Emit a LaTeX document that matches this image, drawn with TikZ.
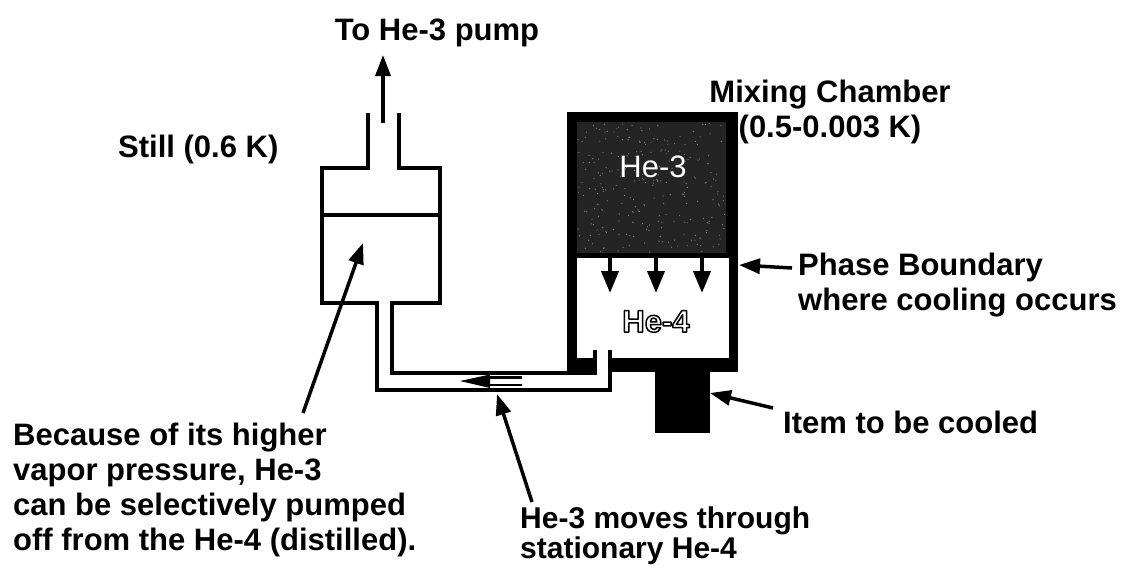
\documentclass[tikz,border=0pt]{standalone}
\usepackage{fontspec}
\setmainfont{Liberation Sans}
\usetikzlibrary{arrows.meta}

% outlined lettering: white fill, black stroke (PDF text render mode 2)
\newcommand{\outlinedtext}[1]{%
  \special{pdf:literal direct 0 G 2 Tr 1.5 w 1 j}#1\special{pdf:literal direct 0 Tr}}

\begin{document}
\begin{tikzpicture}[x=1pt,y=-1pt,
  lbl/.style={font=\bfseries\fontsize{31}{35}\selectfont, inner sep=0pt, align=left},
  inlbl/.style={font=\fontsize{31}{35}\selectfont, inner sep=0pt, anchor=base},
  wall/.style={line width=4pt, line join=miter, line cap=butt},
  ptr/.style={line width=3.5pt, -{Triangle[length=21pt,width=15pt]}},
  dptr/.style={line width=4pt, -{Triangle[length=22pt,width=17pt]}},
]
\useasboundingbox (0,0) rectangle (1135,570);

% ---- still: vessel with pumping neck, liquid level and return line ----
\draw[wall] (368,113) -- (368,168) -- (322,168) -- (322,303) -- (377,303)
            -- (377,390) -- (610,390) -- (610,350);
\draw[wall] (399,113) -- (399,168) -- (440,168) -- (440,303) -- (392,303)
            -- (392,373) -- (595,373) -- (595,350);
\draw[line width=4pt] (322,215) -- (440,215);

% ---- mixing chamber ----
\fill[black] (567,112) rectangle (738,372);
\fill[black!86] (577,122) rectangle (726,253);
\pgfmathsetseed{7}
\foreach \i in {1,...,260}
  \fill[black!45] ({578+147*rnd},{123+129*rnd}) circle (0.6pt);
\fill[white] (577,258) rectangle (729,358);
% return line entering through the chamber floor
\fill[white] (597,350) rectangle (608,388);
\draw[line width=4pt] (595,373) -- (595,350);
\draw[line width=4pt] (610,390) -- (610,350);
% item to be cooled
\fill[black] (655,372) rectangle (710,433);

% flow marker inside the return line
\fill[black] (460,381) -- (490,374.5) -- (490,388) -- cycle;
\draw[line width=2.6pt] (488,377.5) -- (522,377.5);
\draw[line width=2.6pt] (488,385) -- (522,385);

% cooling arrows across the phase boundary
\draw[dptr] (610,257) -- (610,293);
\draw[dptr] (656,257) -- (656,293);
\draw[dptr] (702,257) -- (702,293);

% liquid labels
\node[inlbl, text=white] (hethree) at (653,177) {He-3};
\node[inlbl, text=white, font=\bfseries\fontsize{31}{35}\selectfont] (hefour) at (656,332) {\outlinedtext{He-4}};

% ---- labels ----
\node[lbl, anchor=base] (pump) at (437,40) {To He-3 pump};
\node[lbl, anchor=base west] (still) at (118,157) {Still (0.6 K)};
\node[lbl, anchor=north, align=center] (mix) at (830,80) {Mixing Chamber\\(0.5-0.003 K)};
\node[lbl, anchor=north west] (phase) at (798,253) {Phase Boundary\\where cooling occurs};
\node[lbl, anchor=base west] (item) at (783,433) {Item to be cooled};
\node[lbl, anchor=north west, font=\bfseries\fontsize{30}{30}\selectfont] (moves) at (520,507) {He-3 moves through\\stationary He-4};
\node[lbl, anchor=north west] (because) at (13,423)
  {Because of its higher\\vapor pressure, He-3\\can be selectively pumped\\off from the He-4 (distilled).};

% ---- pointers ----
\coordinate (neck) at (383,123);
\coordinate (pumpend) at (383,55);
\coordinate (becausetail) at (303,413);
\coordinate (liquid) at (363,243);
\coordinate (movestail) at (532,502);
\coordinate (line) at (497,394);
\coordinate (phasetail) at (792,268);
\coordinate (boundary) at (739,265);
\coordinate (itemtail) at (773,408);
\coordinate (load) at (710,393);

\draw[ptr] (neck) -- (pumpend);
\draw[ptr] (becausetail) -- (liquid);
\draw[ptr] (movestail) -- (line);
\draw[ptr] (phasetail) -- (boundary);
\draw[ptr] (itemtail) -- (load);
\end{tikzpicture}
\end{document}
